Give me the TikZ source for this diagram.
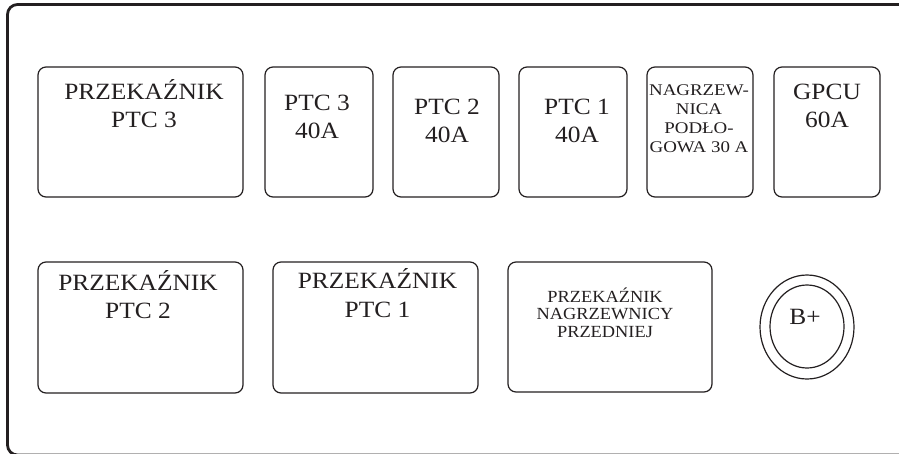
\documentclass[tikz,border=0pt]{standalone}
\usepackage{fontspec}
\setmainfont{Liberation Serif}[FakeStretch=1.09]
\newfontfamily\nagfont{Liberation Serif}[FakeStretch=1.16]
\newfontfamily\przfont{Liberation Serif}[FakeStretch=1.08]
\definecolor{ink}{HTML}{231F20}
\begin{document}
\begin{tikzpicture}[x=1pt,y=-1pt,
  box/.style={draw=ink,line width=1.2pt,rounded corners=8pt,inner sep=0pt},
  big/.style={anchor=base,align=center,inner sep=0pt,text=ink,font=\fontsize{23.3}{28.5}\selectfont},
  nag/.style={anchor=base,align=center,inner sep=0pt,text=ink,font=\nagfont\fontsize{16.3}{19}\selectfont},
  prz/.style={anchor=base,align=center,inner sep=0pt,text=ink,font=\przfont\fontsize{17}{17.5}\selectfont}]
\useasboundingbox (0,0) rectangle (899,453);
\begin{scope}
\clip (0,0) rectangle (899,453);
\draw[ink,line width=2.8pt,rounded corners=10pt] (950,4.5) -- (7.5,4.5) -- (7.5,455) -- (950,455);
\end{scope}
% row 1
\draw[box] (38,67) rectangle (243,197);
\draw[box] (265,67) rectangle (373,197);
\draw[box] (393,67) rectangle (499,197);
\draw[box] (519,67) rectangle (627,197);
\draw[box] (647,67) rectangle (753,197);
\draw[box] (774,67) rectangle (880,197);
% anchor=base = baseline of last line
\node[big] (t1) at (144,127.5) {PRZEKAŹNIK\\PTC 3};
\node[big] (t2) at (317,138.5) {PTC 3\\40A};
\node[big] (t3) at (447,142.5) {PTC 2\\40A};
\node[big] (t4) at (577,142.5) {PTC 1\\40A};
\node[nag] (t5) at (699,152) {NAGRZEW-\\NICA\\PODŁO-\\GOWA 30 A};
\node[big] (t6) at (827,127.5) {GPCU\\60A};
% row 2
\draw[box] (38,262) rectangle (243,393);
\draw[box] (273,262) rectangle (478,393);
\draw[box] (508,262) rectangle (712,392);
\node[big] (t7) at (138,318.5) {PRZEKAŹNIK\\PTC 2};
\node[big] (t8) at (377.5,317) {PRZEKAŹNIK\\PTC 1};
\node[prz] (t9) at (605,337) {PRZEKAŹNIK\\NAGRZEWNICY\\PRZEDNIEJ};
\draw[ink,line width=1.2pt] (807,327) ellipse [x radius=47,y radius=52];
\draw[ink,line width=1.2pt] (807,326.5) ellipse [x radius=37,y radius=41.5];
\node[big] (bp) at (805,324) {B+};
\end{tikzpicture}
\end{document}
